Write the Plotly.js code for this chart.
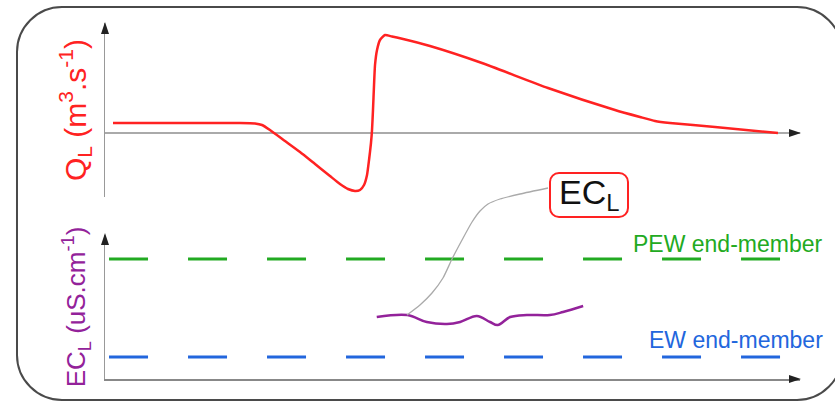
<!DOCTYPE html>
<html>
<head>
<meta charset="utf-8">
<script src="https://cdn.plot.ly/plotly-3.0.1.min.js"></script>
<style>html,body{margin:0;padding:0;background:#fff;}#chart{width:835px;height:402px;}</style>
</head>
<body>
<div id="chart"></div>
<script>
// ---- Data (arbitrary schematic units) ----
// Lateral flow Q_L over time
var qTime = [1.15, 19.42, 21.58, 22.59, 23.74, 25.90, 28.06, 30.22, 32.37, 33.81, 34.96, 35.97, 36.69, 37.27, 37.70, 37.99, 38.27, 38.42, 38.56, 38.71, 38.85, 39.14, 39.57, 40.29, 41.29, 42.45, 46.76, 54.24, 63.74, 73.38, 76.98, 79.14, 81.29, 87.77, 96.83];
var qValue = [1.0, 1.0, 0.95, 0.8, 0.3, -0.8, -1.9, -3.1, -4.3, -5.1, -5.6, -5.8, -5.7, -5.2, -4.2, -2.7, -1.0, 0.3, 2.3, 4.8, 6.8, 8.3, 9.3, 9.8, 9.65, 9.47, 8.7, 7.0, 4.5, 2.3, 1.6, 1.2, 1.0, 0.6, 0.0];
// Lateral EC over time
var ecTime = [39.1, 43.5, 46.3, 49.2, 51.1, 53.5, 55.4, 56.5, 58.3, 60.7, 64.0, 65.9, 68.8];
var ecValue = [62, 64, 57, 55, 57, 63, 57, 54, 62, 64, 64, 67, 73];
// End-members
var memberTime = [0.58, 97.3];
var pewValue = [120, 120];
var ewValue = [22, 22];
// Label leader line from EC curve to the EC_L tag
var leaderTime = [43.45, 45.32, 47.05, 48.63, 49.93, 51.37, 52.81, 53.96, 55.11, 56.83, 59.71, 63.74];
var leaderValue = [64, 74, 86, 101, 120, 139, 157, 168, 175, 180, 185, 191];
// Texts
var qTitle = 'Q<sub>L</sub> (m<sup>3</sup>.s<sup>-1</sup>)';
var ecTitle = 'EC<sub>L</sub> (uS.cm<sup>-1</sup>)';
var ecTag = 'EC<sub>L</sub>';
var pewLabel = 'PEW end-member';
var ewLabel = 'EW end-member';

// ---- helpers for page-space decoration ----
var W = 835, H = 402;
function px(x){ return x / W; }
function py(y){ return 1 - y / H; }
function roundRect(l, t, r, b, rad){
  var k = 0.552 * rad;
  return 'M' + px(l + rad) + ',' + py(t) +
    ' L' + px(r - rad) + ',' + py(t) +
    ' C' + px(r - rad + k) + ',' + py(t) + ' ' + px(r) + ',' + py(t + rad - k) + ' ' + px(r) + ',' + py(t + rad) +
    ' L' + px(r) + ',' + py(b - rad) +
    ' C' + px(r) + ',' + py(b - rad + k) + ' ' + px(r - rad + k) + ',' + py(b) + ' ' + px(r - rad) + ',' + py(b) +
    ' L' + px(l + rad) + ',' + py(b) +
    ' C' + px(l + rad - k) + ',' + py(b) + ' ' + px(l) + ',' + py(b - rad + k) + ' ' + px(l) + ',' + py(b - rad) +
    ' L' + px(l) + ',' + py(t + rad) +
    ' C' + px(l) + ',' + py(t + rad - k) + ' ' + px(l + rad - k) + ',' + py(t) + ' ' + px(l + rad) + ',' + py(t) + ' Z';
}
function tri(a, b, c){
  return 'M' + px(a[0]) + ',' + py(a[1]) + ' L' + px(b[0]) + ',' + py(b[1]) + ' L' + px(c[0]) + ',' + py(c[1]) + ' Z';
}

var FONT = 'Liberation Sans, Arial, sans-serif';
var RED = '#ff2222', PURPLE = '#93229a', GREEN = '#22aa22', BLUE = '#2266dd';

var traces = [
  {x: qTime, y: qValue, xaxis: 'x', yaxis: 'y', mode: 'lines',
   line: {color: RED, width: 2.5, shape: 'spline', smoothing: 0.5}, hoverinfo: 'skip'},
  {x: memberTime, y: pewValue, xaxis: 'x2', yaxis: 'y2', mode: 'lines',
   line: {color: GREEN, width: 3.2, dash: '39px,40px'}, hoverinfo: 'skip'},
  {x: memberTime, y: ewValue, xaxis: 'x2', yaxis: 'y2', mode: 'lines',
   line: {color: BLUE, width: 3.2, dash: '39px,40px'}, hoverinfo: 'skip'},
  {x: leaderTime, y: leaderValue, xaxis: 'x2', yaxis: 'y3', mode: 'lines',
   line: {color: '#aaaaaa', width: 1.3, shape: 'spline', smoothing: 0.6}, hoverinfo: 'skip'},
  {x: ecTime, y: ecValue, xaxis: 'x2', yaxis: 'y2', mode: 'lines',
   line: {color: PURPLE, width: 2.5, shape: 'spline', smoothing: 1}, hoverinfo: 'skip'}
];

var xDom = [105 / W, 800 / W];
var hidden = {showgrid: false, zeroline: false, showticklabels: false, ticks: '', fixedrange: true};

var layout = {
  width: W, height: H,
  margin: {l: 0, r: 0, t: 0, b: 0},
  paper_bgcolor: '#ffffff', plot_bgcolor: 'rgba(0,0,0,0)',
  showlegend: false,
  font: {family: FONT},
  xaxis: Object.assign({}, hidden, {domain: xDom, range: [0, 100], anchor: 'y', showline: false}),
  yaxis: Object.assign({}, hidden, {domain: [py(197), py(23)], range: [-6.4, 11], anchor: 'x',
    showline: true, linecolor: '#999999', linewidth: 1.5,
    zeroline: true, zerolinecolor: '#aaaaaa', zerolinewidth: 1.5,
    title: {text: qTitle, font: {color: RED, size: 30, family: FONT}, standoff: 8}}),
  xaxis2: Object.assign({}, hidden, {domain: xDom, range: [0, 100], anchor: 'y2',
    showline: true, linecolor: '#888888', linewidth: 1.5}),
  yaxis2: Object.assign({}, hidden, {domain: [py(379), py(235)], range: [0, 144], anchor: 'x2',
    showline: true, linecolor: '#999999', linewidth: 1.5,
    title: {text: ecTitle, font: {color: PURPLE, size: 26, family: FONT}, standoff: 10}}),
  yaxis3: Object.assign({}, hidden, {domain: [py(379), py(100)], range: [0, 279], anchor: 'x2', visible: false}),
  shapes: [
    {type: 'path', xref: 'paper', yref: 'paper', path: roundRect(17, 7, 842, 400, 45),
     line: {color: '#4a4a4a', width: 2}, fillcolor: 'rgba(0,0,0,0)'},
    {type: 'path', xref: 'paper', yref: 'paper', path: roundRect(550, 173, 628, 217, 9),
     line: {color: RED, width: 2}, fillcolor: '#ffffff'},
    // axis arrowheads
    {type: 'path', xref: 'paper', yref: 'paper', path: tri([105, 22], [101, 34], [109, 34]),
     line: {width: 0}, fillcolor: '#222222'},
    {type: 'path', xref: 'paper', yref: 'paper', path: tri([105, 233], [101, 245], [109, 245]),
     line: {width: 0}, fillcolor: '#222222'},
    {type: 'path', xref: 'paper', yref: 'paper', path: tri([801, 133], [789, 129], [789, 137]),
     line: {width: 0}, fillcolor: '#222222'},
    {type: 'path', xref: 'paper', yref: 'paper', path: tri([801, 379], [789, 375], [789, 383]),
     line: {width: 0}, fillcolor: '#222222'}
  ],
  annotations: [
    {xref: 'paper', yref: 'paper', x: px(589), y: py(195), text: ecTag, showarrow: false,
     xanchor: 'center', yanchor: 'middle', font: {size: 34, color: '#111111', family: FONT}},
    {xref: 'paper', yref: 'paper', x: px(825), y: py(244), text: pewLabel, showarrow: false,
     xanchor: 'right', yanchor: 'middle', font: {size: 23, color: GREEN, family: FONT}},
    {xref: 'paper', yref: 'paper', x: px(825), y: py(340), text: ewLabel, showarrow: false,
     xanchor: 'right', yanchor: 'middle', font: {size: 23, color: BLUE, family: FONT}}
  ]
};

Plotly.newPlot('chart', traces, layout, {staticPlot: true, displayModeBar: false});
</script>
</body>
</html>
